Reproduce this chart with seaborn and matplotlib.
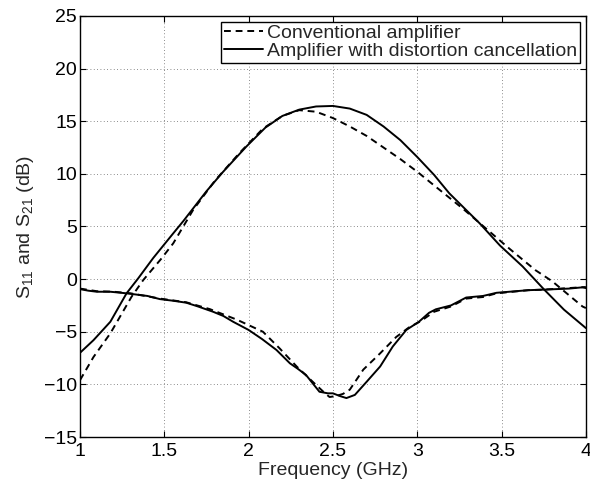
import numpy as np
import pandas as pd
import matplotlib
matplotlib.use("Agg")
import matplotlib.pyplot as plt
import seaborn as sns

# S21 (gain) curves
s21_conv_f = [1.0, 1.08, 1.18, 1.306, 1.375, 1.48, 1.553, 1.67, 1.80, 1.947, 2.085, 2.2, 2.3,
              2.4, 2.5, 2.6, 2.7, 2.8, 2.9, 3.0, 3.1, 3.27, 3.43, 3.546, 3.70, 3.80, 3.86, 3.98, 4.0]
s21_conv = [-9.6, -7.4, -5.15, -1.67, -0.09, 1.9, 3.4, 6.55, 9.35, 12.0, 14.3, 15.5, 16.05,
            15.9, 15.3, 14.5, 13.6, 12.5, 11.4, 10.2, 8.9, 6.7, 4.5, 2.9, 0.86, -0.2, -1.0, -2.6, -2.75]

s21_canc_f = [1.0, 1.08, 1.18, 1.276, 1.345, 1.434, 1.553, 1.612, 1.75, 1.849, 1.987, 2.1, 2.2,
              2.3, 2.4, 2.5, 2.6, 2.7, 2.8, 2.9, 3.0, 3.1, 3.19, 3.37, 3.49, 3.625, 3.753, 3.87, 4.0]
s21_canc = [-7.0, -5.8, -4.05, -1.35, 0.07, 2.0, 4.35, 5.5, 8.35, 10.2, 12.6, 14.4, 15.5,
            16.1, 16.4, 16.45, 16.2, 15.6, 14.5, 13.2, 11.6, 9.9, 8.15, 5.3, 3.2, 1.2, -1.0, -2.9, -4.65]

# S11 (return loss) curves
s11_conv_f = [1.0, 1.1, 1.2, 1.3, 1.474, 1.63, 1.77, 1.93, 2.085, 2.185, 2.285, 2.38, 2.45,
              2.48, 2.52, 2.56, 2.6, 2.68, 2.78, 2.875, 2.95, 3.02, 3.1, 3.2, 3.29, 3.39,
              3.47, 3.66, 3.75, 3.9, 4.0]
s11_conv = [-0.9, -1.15, -1.2, -1.35, -1.85, -2.2, -2.85, -3.85, -5.0, -6.6, -8.3, -9.75, -10.8,
            -11.2, -11.1, -10.9, -10.5, -8.6, -7.05, -5.5, -4.6, -4.0, -3.1, -2.6, -1.85, -1.7,
            -1.35, -1.05, -1.0, -0.85, -0.75]

s11_canc_f = [1.0, 1.05, 1.1, 1.18, 1.276, 1.4, 1.474, 1.55, 1.63, 1.7, 1.789, 1.85, 1.908,
              2.0, 2.08, 2.165, 2.245, 2.29, 2.34, 2.42, 2.47, 2.5, 2.54, 2.58, 2.63, 2.70,
              2.78, 2.855, 2.935, 3.01, 3.07, 3.11, 3.2, 3.29, 3.39, 3.47, 3.66, 3.75, 3.9, 3.98, 4.0]
s11_canc = [-0.95, -1.1, -1.2, -1.2, -1.35, -1.6, -1.9, -2.05, -2.24, -2.6, -3.1, -3.5, -4.05,
            -4.83, -5.7, -6.73, -8.0, -8.5, -9.1, -10.7, -10.85, -10.85, -11.1, -11.3, -11.0, -9.75,
            -8.3, -6.4, -4.83, -4.05, -3.2, -2.87, -2.5, -1.75, -1.6, -1.3, -1.05, -1.0, -0.9, -0.78, -0.85]

label_conv = "Conventional amplifier"
label_canc = "Amplifier with distortion cancellation"

sns.set_style("ticks")
plt.rcParams["font.family"] = ["Liberation Sans", "DejaVu Sans"]
plt.rcParams["mathtext.fontset"] = "custom"
plt.rcParams["mathtext.rm"] = "Liberation Sans"
plt.rcParams["mathtext.it"] = "Liberation Sans"

fs = 14
fig = plt.figure(figsize=(5.9, 4.83), dpi=100)
ax = fig.add_axes([0.1356, 0.0952, 0.8574, 0.8718])

lw = 1.4
dash = (0, (3.5, 2.5))
sns.lineplot(x=s21_conv_f, y=s21_conv, ax=ax, color="black", lw=lw,
             linestyle=dash, label=label_conv)
sns.lineplot(x=s21_canc_f, y=s21_canc, ax=ax, color="black", lw=lw, label=label_canc)
sns.lineplot(x=s11_conv_f, y=s11_conv, ax=ax, color="black", lw=lw,
             linestyle=dash, legend=False)
sns.lineplot(x=s11_canc_f, y=s11_canc, ax=ax, color="black", lw=lw, legend=False)

ax.set_xlim(1, 4)
ax.set_ylim(-15, 25)
ax.set_xticks([1, 1.5, 2, 2.5, 3, 3.5, 4])
ax.set_xticklabels(["1", "1.5", "2", "2.5", "3", "3.5", "4"])
ax.set_yticks(range(-15, 26, 5))
ax.set_yticklabels(["\u221215", "\u221210", "\u22125", "0", "5", "10", "15", "20", "25"])
ax.tick_params(direction="in", top=True, right=True, labelsize=fs, length=4,
               width=0.8, colors="black")
ax.tick_params(axis="x", pad=4)
ax.tick_params(axis="y", pad=2)
ax.grid(True, linestyle=(0, (1, 3)), color="#666666", linewidth=0.6)
for s in ax.spines.values():
    s.set_linewidth(1.0)
    s.set_color("black")

ax.set_xlabel("Frequency (GHz)", fontsize=fs, labelpad=2)
ax.set_ylabel("S$_{11}$ and S$_{21}$ (dB)", fontsize=fs, labelpad=6)

leg = ax.legend(loc="upper right", fontsize=fs, frameon=True, fancybox=False,
                edgecolor="black", framealpha=1, borderpad=0.15, labelspacing=0.0,
                handlelength=2.0, handletextpad=0.2, borderaxespad=0.3)
leg.get_frame().set_linewidth(1.0)

fig.savefig("out.png", dpi=100)
